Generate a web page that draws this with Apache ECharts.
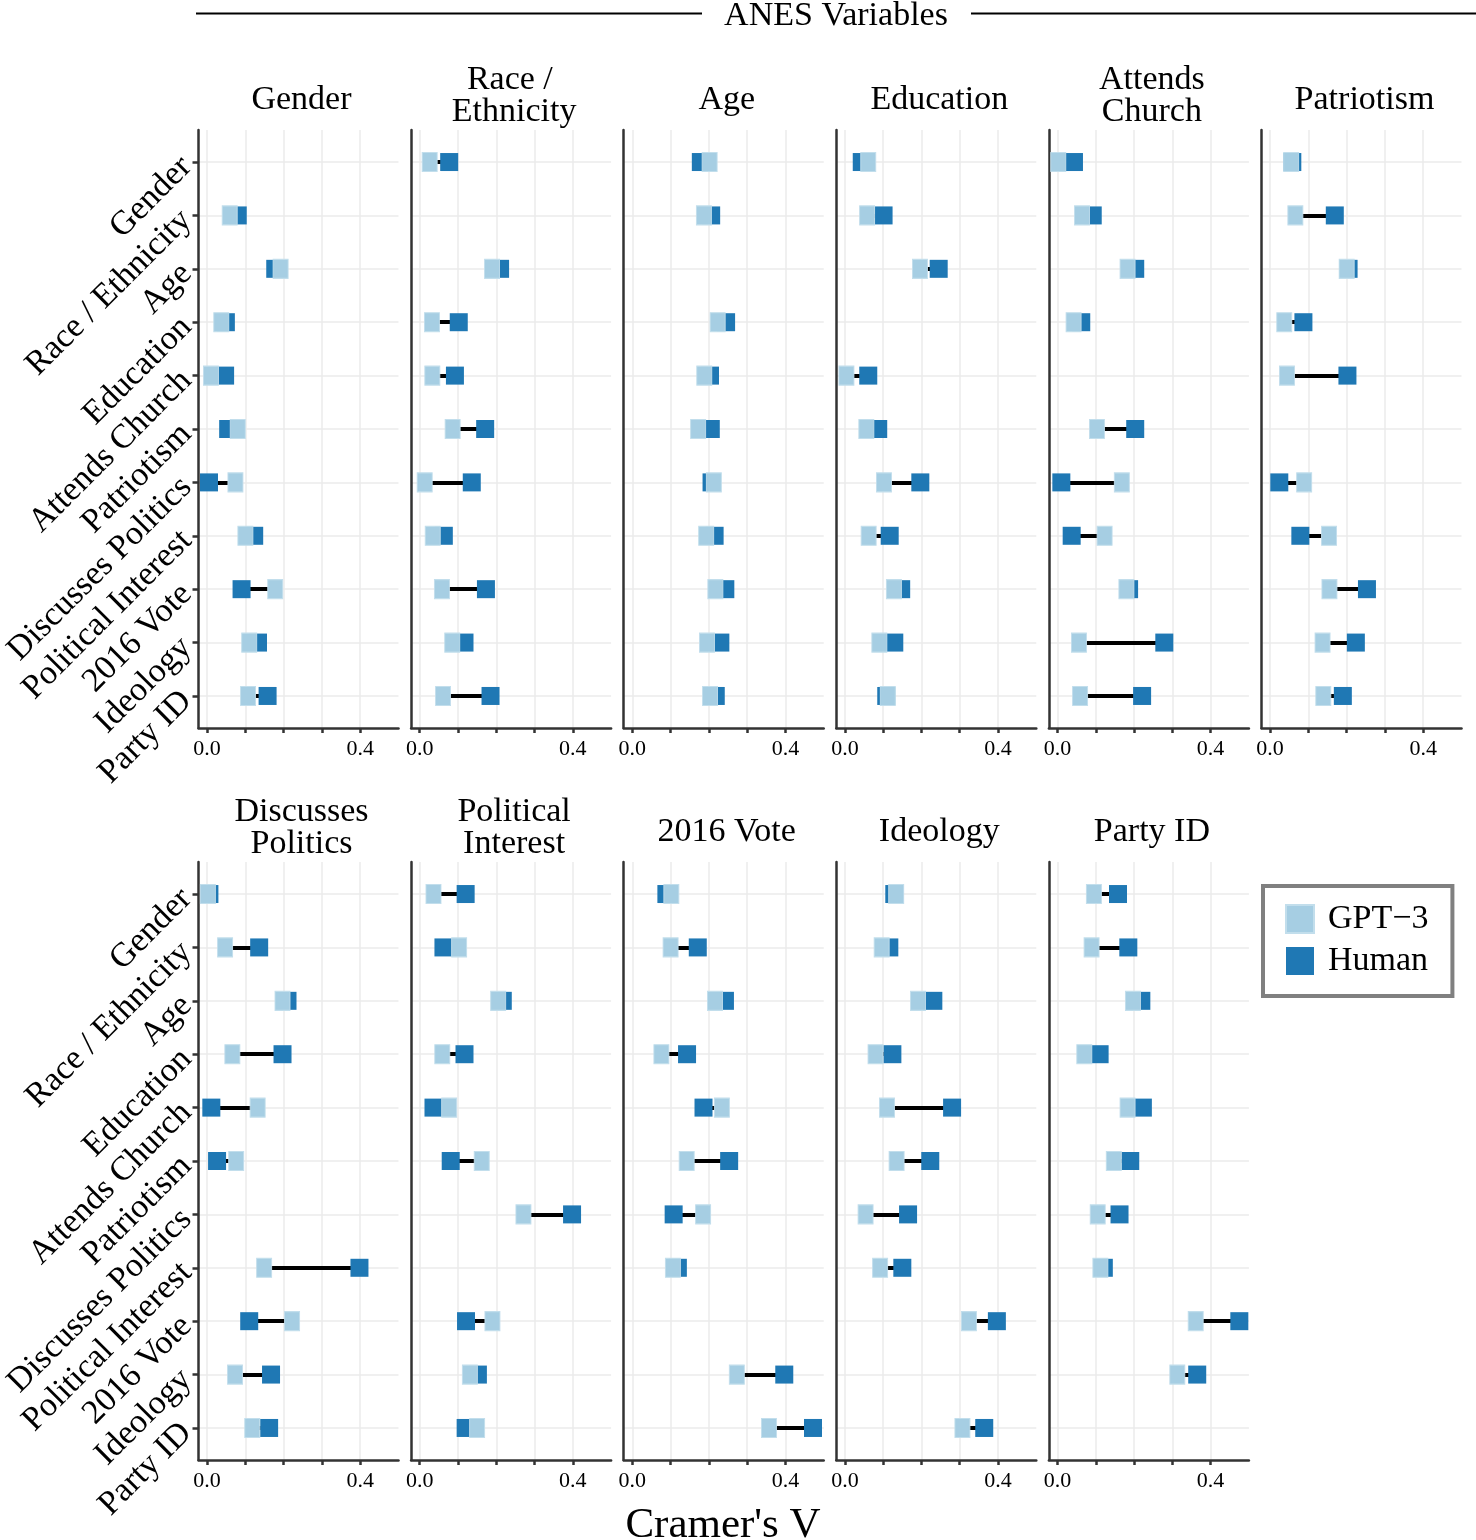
<!DOCTYPE html>
<html>
<head>
<meta charset="utf-8">
<script src="https://cdn.jsdelivr.net/npm/echarts@6/dist/echarts.min.js"></script>
<style>
  html, body { margin: 0; background: #fff; }
  #chart { width: 1476px; height: 1540px; }
</style>
</head>
<body>
<div id="chart"></div>
<script>
// Cramer's V between ANES variables, GPT-3 vs human samples (one facet per column variable)

const variables = ['Gender', 'Race / Ethnicity', 'Age', 'Education', 'Attends Church', 'Patriotism',
  'Discusses Politics', 'Political Interest', '2016 Vote', 'Ideology', 'Party ID']
const facetTitles = ['Gender', 'Race / \nEthnicity', 'Age', 'Education', 'Attends\nChurch', 'Patriotism',
  'Discusses\nPolitics', 'Political\nInterest', '2016 Vote', 'Ideology', 'Party ID']
const xTickValues = [0, 0.1, 0.2, 0.3, 0.4]
const xLabelValues = [0, 0.4]
const rowValues = [0, 1, 2, 3, 4, 5, 6, 7, 8, 9, 10]

// rows follow `variables`; null = the facet's own variable
const gpt3Gender      = [null, 0.059, 0.192, 0.037, 0.010, 0.080, 0.074, 0.100, 0.178, 0.110, 0.107]
const humanGender     = [null, 0.080, 0.178, 0.049, 0.047, 0.055, 0.005, 0.123, 0.090, 0.133, 0.158]
const gpt3Race        = [0.026, null, 0.189, 0.032, 0.033, 0.086, 0.013, 0.034, 0.058, 0.085, 0.061]
const humanRace       = [0.077, null, 0.210, 0.102, 0.092, 0.171, 0.136, 0.063, 0.173, 0.117, 0.185]
const gpt3Age         = [0.202, 0.187, null, 0.223, 0.188, 0.172, 0.213, 0.193, 0.217, 0.195, 0.203]
const humanAge        = [0.179, 0.206, null, 0.245, 0.203, 0.205, 0.207, 0.215, 0.243, 0.230, 0.218]
const gpt3Education   = [0.061, 0.058, 0.196, null, 0.004, 0.056, 0.102, 0.062, 0.128, 0.090, 0.112]
const humanEducation  = [0.044, 0.101, 0.245, null, 0.061, 0.087, 0.197, 0.117, 0.147, 0.129, 0.108]
const gpt3Church      = [0.002, 0.064, 0.183, 0.042, null, 0.103, 0.168, 0.123, 0.180, 0.056, 0.059]
const humanChurch     = [0.043, 0.092, 0.203, 0.062, null, 0.203, 0.010, 0.037, 0.187, 0.279, 0.221]
const gpt3Patriotism  = [0.055, 0.066, 0.200, 0.037, 0.044, null, 0.089, 0.154, 0.155, 0.137, 0.139]
const humanPatriotism = [0.058, 0.169, 0.205, 0.087, 0.202, null, 0.024, 0.079, 0.253, 0.224, 0.190]
const gpt3Discusses   = [0.002, 0.047, 0.197, 0.066, 0.132, 0.076, null, 0.149, 0.222, 0.073, 0.118]
const humanDiscusses  = [0.006, 0.136, 0.210, 0.197, 0.011, 0.026, null, 0.398, 0.110, 0.167, 0.162]
const gpt3Interest    = [0.036, 0.103, 0.205, 0.059, 0.077, 0.162, 0.271, null, 0.190, 0.131, 0.150]
const humanInterest   = [0.120, 0.062, 0.217, 0.117, 0.036, 0.081, 0.398, null, 0.121, 0.152, 0.120]
const gpt3Vote        = [0.102, 0.100, 0.216, 0.076, 0.234, 0.142, 0.185, 0.106, null, 0.273, 0.357]
const humanVote       = [0.089, 0.171, 0.242, 0.143, 0.186, 0.253, 0.108, 0.119, null, 0.397, 0.472]
const gpt3Ideology    = [0.134, 0.096, 0.191, 0.080, 0.110, 0.135, 0.054, 0.092, 0.324, null, 0.307]
const humanIdeology   = [0.129, 0.116, 0.231, 0.124, 0.280, 0.223, 0.165, 0.150, 0.397, null, 0.364]
const gpt3PartyId     = [0.095, 0.089, 0.197, 0.070, 0.183, 0.147, 0.105, 0.112, 0.361, 0.313, null]
const humanPartyId    = [0.158, 0.185, 0.219, 0.110, 0.223, 0.190, 0.162, 0.121, 0.475, 0.365, null]

const gpt3ByFacet = [gpt3Gender, gpt3Race, gpt3Age, gpt3Education, gpt3Church, gpt3Patriotism,
  gpt3Discusses, gpt3Interest, gpt3Vote, gpt3Ideology, gpt3PartyId]
const humanByFacet = [humanGender, humanRace, humanAge, humanEducation, humanChurch, humanPatriotism,
  humanDiscusses, humanInterest, humanVote, humanIdeology, humanPartyId]

const FONT = '"Liberation Serif", "Times New Roman", serif'
const GPT_COLOR = '#a6cee3'
const HUMAN_COLOR = '#1f78b4'
const AXIS_COLOR = '#333333'
const GRID_COLOR = '#ebebeb'

// facet layout: 6 on the first row, 5 on the second
const PANEL_W = 200, PANEL_H = 598, PANEL_STEP = 212.6, FIRST_LEFT = 198.5
const ROW_TOPS = [130, 862]
const facets = variables.map((v, k) => {
  const row = k < 6 ? 0 : 1
  const col = row === 0 ? k : k - 6
  return { left: FIRST_LEFT + col * PANEL_STEP, top: ROW_TOPS[row], first: col === 0 }
})

const grid = [], xAxis = [], yAxis = [], series = [], graphic = []

facets.forEach((f, k) => {
  grid.push({ left: f.left, top: f.top, width: PANEL_W, height: PANEL_H, outerBoundsMode: 'none' })

  xAxis.push({
    gridIndex: k, type: 'value', min: -0.0225, max: 0.5,
    axisLine: { show: true, onZero: false, lineStyle: { color: AXIS_COLOR, width: 2.5 } },
    axisTick: { show: true, customValues: xTickValues, length: 5, lineStyle: { color: AXIS_COLOR, width: 2.5 } },
    axisLabel: {
      customValues: xLabelValues, formatter: (v) => v.toFixed(1),
      fontFamily: FONT, fontSize: 22, color: '#000', margin: 10,
    },
    splitLine: { show: true, lineStyle: { color: GRID_COLOR, width: 1.5 } },
  })

  yAxis.push({
    gridIndex: k, type: 'value', inverse: true, min: -0.6, max: 10.6,
    axisLine: { show: true, onZero: false, lineStyle: { color: AXIS_COLOR, width: 2.5 } },
    axisTick: { show: f.first, customValues: rowValues, length: 6, lineStyle: { color: AXIS_COLOR, width: 2.5 } },
    axisLabel: {
      show: f.first, customValues: rowValues, formatter: (v) => variables[v],
      rotate: 45, fontFamily: FONT, fontSize: 34, color: '#000', margin: 12,
    },
    splitLine: { show: true, lineStyle: { color: GRID_COLOR, width: 1.5 } },
  })

  const gpt = gpt3ByFacet[k], human = humanByFacet[k]
  const rows = rowValues.filter((j) => gpt[j] != null)

  series.push({
    type: 'lines', coordinateSystem: 'cartesian2d', xAxisIndex: k, yAxisIndex: k,
    silent: true, z: 2,
    lineStyle: { color: '#000', width: 4, opacity: 1 },
    data: rows.map((j) => ({ coords: [[gpt[j], j], [human[j], j]] })),
  })
  series.push({
    name: 'Human', type: 'scatter', xAxisIndex: k, yAxisIndex: k, z: 3,
    symbol: 'rect', symbolSize: [18, 18],
    itemStyle: { color: HUMAN_COLOR, opacity: 1 },
    data: rows.map((j) => [human[j], j]),
  })
  series.push({
    name: 'GPT−3', type: 'scatter', xAxisIndex: k, yAxisIndex: k, z: 4,
    symbol: 'rect', symbolSize: [15, 19],
    itemStyle: { color: GPT_COLOR, borderColor: '#c2deec', borderWidth: 1, opacity: 1 },
    data: rows.map((j) => [gpt[j], j]),
  })

  // facet strip title
  const twoLines = facetTitles[k].includes('\n')
  graphic.push({
    type: 'text', x: f.left + PANEL_W / 2 + 3, y: f.top - (twoLines ? 34 : 30),
    style: {
      text: facetTitles[k], fontFamily: FONT, fontSize: 34, lineHeight: 32,
      fill: '#000', align: 'center', verticalAlign: 'middle',
    },
  })
})

// top spanner "ANES Variables" and bottom axis title
graphic.push(
  { type: 'line', shape: { x1: 196, y1: 13.5, x2: 702, y2: 13.5 }, style: { stroke: '#000', lineWidth: 2 } },
  { type: 'line', shape: { x1: 971, y1: 13.5, x2: 1476, y2: 13.5 }, style: { stroke: '#000', lineWidth: 2 } },
  {
    type: 'text', x: 836, y: 16,
    style: { text: 'ANES Variables', fontFamily: FONT, fontSize: 34, fill: '#000', align: 'center', verticalAlign: 'middle' },
  },
  {
    type: 'text', x: 723, y: 1526,
    style: { text: "Cramer's V", fontFamily: FONT, fontSize: 43, fill: '#000', align: 'center', verticalAlign: 'middle' },
  },
)

const chart = echarts.init(document.getElementById('chart'), null, { renderer: 'canvas' })
chart.setOption({
  animation: false,
  backgroundColor: '#fff',
  grid, xAxis, yAxis, series, graphic,
  legend: {
    data: ['GPT−3', 'Human'],
    orient: 'vertical', left: 1263, top: 886,
    icon: 'rect', itemWidth: 28, itemHeight: 28, itemGap: 8,
    padding: [16, 24, 18, 22],
    borderColor: '#808080', borderWidth: 4, backgroundColor: '#fff',
    textStyle: { fontFamily: FONT, fontSize: 34, color: '#000', lineHeight: 28, padding: [0, 0, 0, 9] },
  },
})
</script>
</body>
</html>
